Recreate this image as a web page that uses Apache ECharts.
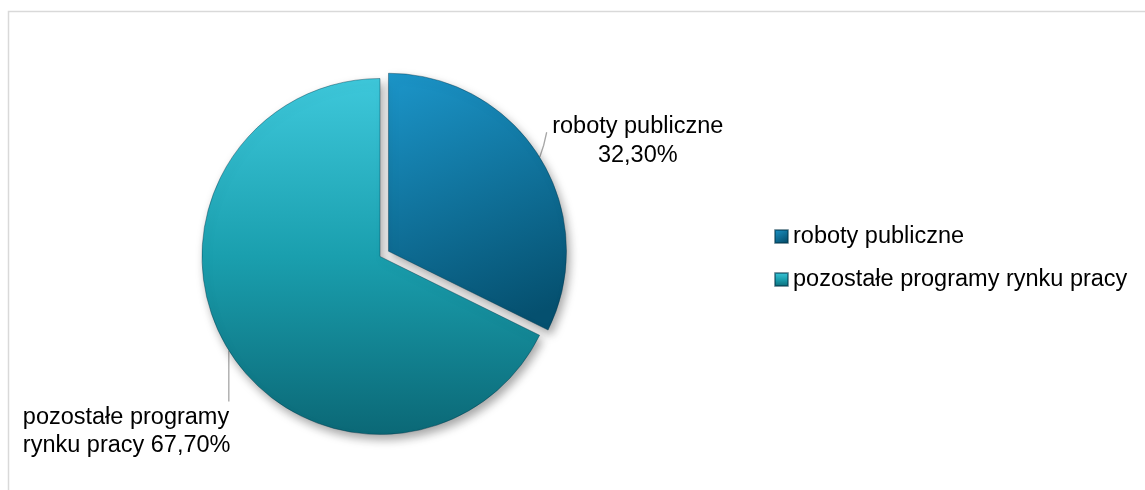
<!DOCTYPE html>
<html>
<head>
<meta charset="utf-8">
<script src="https://cdn.jsdelivr.net/npm/echarts@6/dist/echarts.min.js"></script>
<style>
html,body{margin:0;padding:0;background:#fff;}
#chart{width:1145px;height:490px;}
</style>
</head>
<body>
<div id="chart"></div>
<script>
var categories = ['roboty publiczne', 'pozostałe programy rynku pracy'];
var values = [32.3, 67.7];
var labelLines = [['roboty publiczne', '32,30%'], ['pozostałe programy', 'rynku pracy 67,70%']];

var colors = [
  new echarts.graphic.LinearGradient(0, 0, 0.6, 1, [
    {offset: 0, color: '#1c96ca'}, {offset: 1, color: '#05506f'}
  ]),
  new echarts.graphic.LinearGradient(0, 0, 0, 1, [
    {offset: 0, color: '#3ec8db'}, {offset: 0.5, color: '#1a9fae'}, {offset: 1, color: '#0b6876'}
  ])
];

var chart = echarts.init(document.getElementById('chart'), null, {renderer: 'canvas'});
var font = 'Liberation Sans, Arial, sans-serif';

chart.setOption({
  animation: false,
  backgroundColor: '#ffffff',
  graphic: [{
    type: 'rect', z: -10, silent: true,
    shape: {x: 8.5, y: 11.5, width: 1160, height: 500},
    style: {fill: 'none', stroke: '#d9d9d9', lineWidth: 1.5}
  }],
  legend: {
    orient: 'vertical',
    left: 774, top: 224.5, padding: 0,
    itemWidth: 13, itemHeight: 13, itemGap: 19,
    icon: 'rect',
    textStyle: {fontFamily: font, fontSize: 23.5, color: '#000', lineHeight: 24},
    data: categories
  },
  series: [{
    type: 'pie',
    center: [380, 256.5],
    radius: 178,
    startAngle: 90,
    clockwise: true,
    selectedMode: 'single',
    selectedOffset: 10,
    avoidLabelOverlap: false,
    data: categories.map(function (c, i) {
      return {name: c, value: values[i], selected: i === 0,
              itemStyle: {color: colors[i]}};
    }),
    itemStyle: {
      borderColor: 'rgba(0,50,70,0.5)', borderWidth: 0.8,
      shadowBlur: 10, shadowOffsetX: 3, shadowOffsetY: 5, shadowColor: 'rgba(0,0,0,0.35)'
    },
    emphasis: {disabled: true},
    label: {
      show: true, position: 'outside',
      distanceToLabelLine: -14,
      fontFamily: font, fontSize: 23.5, color: '#000', lineHeight: 28,
      formatter: function (p) {
        var l = labelLines[p.dataIndex];
        return p.dataIndex === 0 ? '{c|' + l[0] + '}\n{c|' + l[1] + '}' : l[0] + '\n' + l[1];
      },
      rich: {c: {width: 172, align: 'center', fontFamily: font, fontSize: 23.5, color: '#000', lineHeight: 29}}
    },
    labelLine: {show: true, length: 30.7, length2: 0, lineStyle: {color: '#a6a6a6', width: 1.3}},
    labelLayout: function (p) {
      var pts = p.labelLinePoints;
      var a = pts ? pts[0] : [0, 0];
      if (p.dataIndex === 0) {
        return {labelLinePoints: [[a[0], a[1]], [a[0] + 4, a[1] - 12], [a[0] + 7, a[1] - 25]]};
      }
      return {x: a[0] - 206, y: a[1] + 81, align: 'left', verticalAlign: 'middle',
              labelLinePoints: [[a[0], a[1]], [a[0], a[1] + 25], [a[0], a[1] + 51]]};
    }
  }]
});
</script>
</body>
</html>
